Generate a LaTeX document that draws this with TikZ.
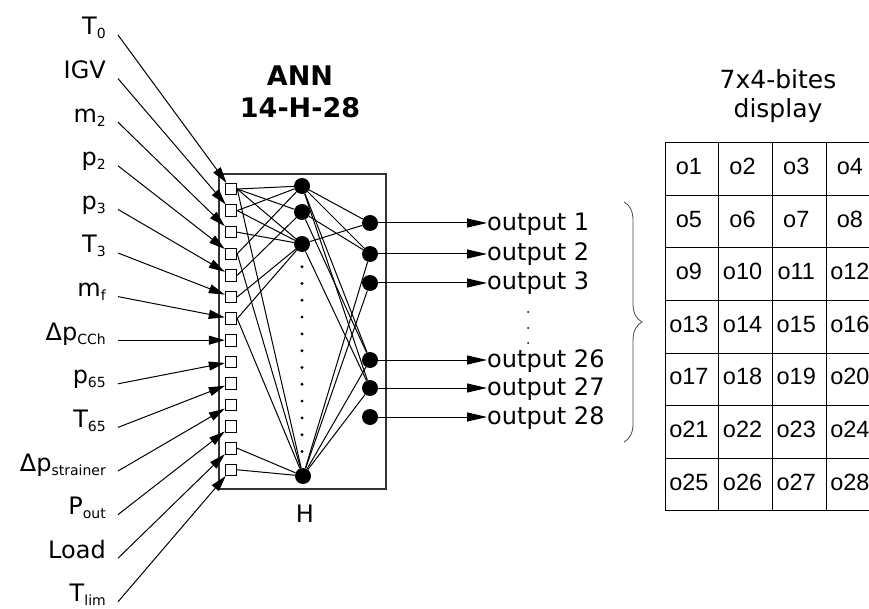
\documentclass[tikz,border=0pt]{standalone}
\usepackage{fontspec}
\setmainfont{DejaVu Sans}
\newfontfamily\cellfont{Liberation Sans}
\usetikzlibrary{arrows.meta,decorations.pathreplacing}
\newcommand{\lo}[1]{\raisebox{-4pt}{\fontsize{14}{14}\selectfont #1}}

\begin{document}
\begin{tikzpicture}[x=1pt,y=-1pt,
    inp/.style={draw,fill=white,minimum size=11.5pt,inner sep=0pt,line width=0.9pt},
    neuron/.style={circle,fill=black,minimum size=16pt,inner sep=0pt},
    lab/.style={anchor=base east,inner sep=0pt,font=\fontsize{24}{28}\selectfont},
    outlab/.style={anchor=base west,inner sep=0pt,font=\fontsize{24}{28}\selectfont},
    feed/.style={-{Triangle[length=16pt,width=9pt]},line width=1pt},
    outfeed/.style={-{Triangle[length=20pt,width=9pt]},line width=1pt},
    cell/.style={draw,minimum width=53.7pt,minimum height=52.6pt,inner sep=0pt,line width=1pt},
    celltext/.style={anchor=base,inner sep=0pt,font=\cellfont\fontsize{23.5}{28}\selectfont}]
  \useasboundingbox (0,0) rectangle (869,609);
  \clip (0,0) rectangle (869,609);

  % network box and titles
  \node[draw,line width=1.2pt,black!80,minimum width=167pt,minimum height=315pt,inner sep=0pt] (box) at (302.5,331.5) {};
  \node[align=center,font=\bfseries\fontsize{27}{32}\selectfont] (ann) at (300,92) {ANN\\14-H-28};
  \node[anchor=base,font=\fontsize{24}{28}\selectfont] (hlab) at (305,522.7) {H};

  % inputs
  \draw
    (106,35) node[lab] (l1) {T\lo{0}}
    (106,78.6) node[lab] (l2) {IGV}
    (106,122.2) node[lab] (l3) {m\lo{2}}
    (106,165.8) node[lab] (l4) {p\lo{2}}
    (106,209.4) node[lab] (l5) {p\lo{3}}
    (106,253) node[lab] (l6) {T\lo{3}}
    (106,296.6) node[lab] (l7) {m\lo{f}}
    (106,340.2) node[lab] (l8) {Δp\lo{CCh}}
    (106,383.8) node[lab] (l9) {p\lo{65}}
    (106,427.4) node[lab] (l10) {T\lo{65}}
    (106,471) node[lab] (l11) {Δp\lo{strainer}}
    (106,514.6) node[lab] (l12) {P\lo{out}}
    (106,558.2) node[lab] (l13) {Load}
    (106,601.8) node[lab] (l14) {T\lo{lim}};
  \draw
    (231,189) node[inp] (s1) {}
    (231,210.6) node[inp] (s2) {}
    (231,232.2) node[inp] (s3) {}
    (231,253.8) node[inp] (s4) {}
    (231,275.4) node[inp] (s5) {}
    (231,297) node[inp] (s6) {}
    (231,318.6) node[inp] (s7) {}
    (231,340.2) node[inp] (s8) {}
    (231,361.8) node[inp] (s9) {}
    (231,383.4) node[inp] (s10) {}
    (231,405) node[inp] (s11) {}
    (231,426.6) node[inp] (s12) {}
    (231,448.2) node[inp] (s13) {}
    (231,469.8) node[inp] (s14) {};
  \foreach \i in {1,...,14}
    \draw[feed] ([shift={(12,0)}]l\i.base east) -- (s\i);

  % hidden and output neurons
  \draw
    (302,186) node[neuron] (h1) {}
    (302,212) node[neuron] (h2) {}
    (302,244) node[neuron] (h3) {}
    (303,476) node[neuron] (hn) {}
    (370,223) node[neuron] (y1) {}
    (370,254) node[neuron] (y2) {}
    (370,283) node[neuron] (y3) {}
    (370,360) node[neuron] (y26) {}
    (370,388) node[neuron] (y27) {}
    (370,417) node[neuron] (y28) {};
  \foreach \k in {0,...,11}
    \fill (302,266.7+16.8*\k) circle (1.6pt);

  \begin{scope}[line width=1pt]
    \draw (s1.east) to (h1);
    \draw (s1.east) to (h2);
    \draw (s1.east) to (h3);
    \draw (s1.east) to (hn);
    \draw (s2.east) to (h1);
    \draw (s2.east) to (h3);
    \draw (s3.east) to (h3);
    \draw (s4.east) to (h1);
    \draw (s4.east) to (hn);
    \draw (s5.east) to (h2);
    \draw (s6.east) to (h3);
    \draw (s7.east) to (h3);
    \draw (s7.east) to (hn);
    \draw (s13.east) to (hn);
    \draw (s14.east) to (hn);
    \draw (h1) to (y1);
    \draw (h1) to (y2);
    \draw (h1) to (y26);
    \draw (h1) to (y27);
    \draw (h2) to (y2);
    \draw (h2) to (y26);
    \draw (h3) to (y1);
    \draw (h3) to (y27);
    \draw (hn) to (y2);
    \draw (hn) to (y3);
    \draw (hn) to (y26);
    \draw (hn) to (y27);
  \end{scope}

  % outputs
  \draw
    (487,230.3) node[outlab] (t1) {output 1}
    (487,261) node[outlab] (t2) {output 2}
    (487,289.7) node[outlab] (t3) {output 3}
    (487,367) node[outlab] (t26) {output 26}
    (487,395) node[outlab] (t27) {output 27}
    (487,424) node[outlab] (t28) {output 28};
  \foreach \o in {1,2,3,26,27,28}
    \draw[outfeed] (y\o) -- (y\o -| t\o.west);
  \foreach \yy in {312,328,343}
    \fill (528,\yy) circle (1pt);
  \coordinate (bt) at (624,202);
  \coordinate (bb) at (624,442);
  \draw[decorate,decoration={brace,amplitude=18pt},line width=0.8pt,black!70] (bt) -- (bb);

  % display
  \node[align=center,font=\fontsize{25}{29}\selectfont] (disp) at (778,96) {7x4-bites\\display};
  \foreach \r in {0,...,6}
    \foreach \c in {0,...,3} {
      \pgfmathtruncatemacro\n{4*\r+\c+1}
      \node[cell] (c\n) at (691.85+53.7*\c,169+52.6*\r) {};
      \node[celltext] (b\n) at ([shift={(-3,5.5)}]c\n.center) {o\n};
    }
\end{tikzpicture}
\end{document}
